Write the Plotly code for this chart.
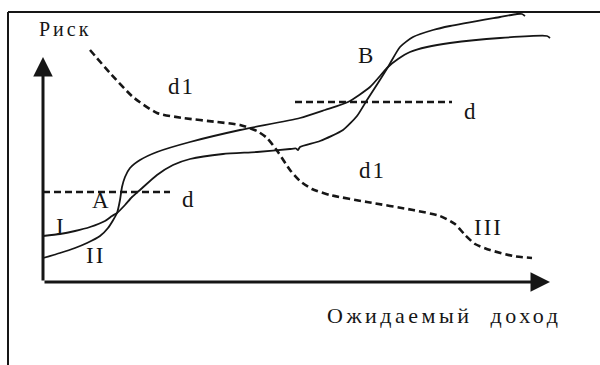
import plotly.graph_objects as go

# curve I (solid, starts higher on the left)
curve1_x = [0, 3.4, 6.4, 9.4, 12.4, 13.8, 14.8, 16.4, 17.8, 19.4, 22.8, 26.0, 29.4, 36.0, 42.8,
            49.4, 50.6, 51.0, 51.4, 55.4, 60.0, 62.8, 64.8, 67.0, 69.0, 71.4, 74.0, 78.0, 81.4,
            91.4, 94.8, 95.8, 96.4]
curve1_y = [18.4, 19.2, 20.4, 22.0, 24.4, 26.4, 27.6, 30.8, 34.0, 36.8, 42.8, 46.8, 49.2, 51.2, 52.0,
            53.2, 53.4, 52.8, 54.0, 56.4, 60.8, 66.4, 72.8, 79.6, 86.0, 94.0, 98.0, 100.8, 102.4,
            106.0, 107.2, 107.2, 106.4]

# curve II (solid, starts lower on the left)
curve2_x = [0, 3.4, 6.4, 8.8, 11.4, 13.0, 14.8, 15.4, 15.8, 16.4, 17.4, 19.4, 22.8, 29.4, 39.4,
            51.4, 56.4, 61.0, 65.4, 69.0, 71.0, 73.4, 76.8, 81.4, 91.4, 100.8, 101.4]
curve2_y = [9.6, 11.6, 13.6, 15.6, 18.4, 21.6, 27.6, 32.8, 38.0, 42.0, 45.6, 48.8, 52.0, 56.0, 60.8,
            65.6, 68.8, 72.0, 78.0, 86.0, 89.2, 92.0, 94.0, 95.6, 97.6, 98.4, 97.6]

# curve III (dashed, falling)
curve3_x = [9.4, 13.4, 18.0, 22.8, 28.0, 34.8, 39.4, 42.8, 44.8, 47.0, 49.4, 51.4, 53.8, 57.4,
            64.8, 74.0, 79.4, 82.4, 84.4, 86.4, 89.4, 94.0, 97.8]
curve3_y = [92.8, 83.6, 74.0, 67.6, 65.6, 64.0, 62.8, 60.4, 57.6, 52.0, 44.8, 40.4, 37.2, 34.8,
            32.0, 28.8, 26.4, 23.2, 18.8, 15.2, 12.8, 10.4, 9.6]

# the two "d" levels
d_low_x = [0, 25.4]
d_low_y = [36.0, 36.0]
d_high_x = [50.4, 81.8]
d_high_y = [72.0, 72.0]

# labels
label_text = ["d1", "B", "d", "d1", "A", "d", "I", "II", "III"]
label_x = [27.6, 64.6, 85.6, 65.8, 11.6, 29.2, 3.6, 10.4, 89.0]
label_y = [78.4, 90.8, 68.4, 44.8, 32.8, 33.2, 22.4, 10.8, 22.0]

x_tip = 101.4
y_tip = 90.0

INK = "#161616"
FONT = "Liberation Serif"

fig = go.Figure()
fig.add_trace(go.Scatter(x=curve1_x, y=curve1_y, mode="lines",
                         line=dict(color=INK, width=1.8, shape="spline", smoothing=0.6)))
fig.add_trace(go.Scatter(x=curve2_x, y=curve2_y, mode="lines",
                         line=dict(color=INK, width=1.8, shape="spline", smoothing=0.6)))
fig.add_trace(go.Scatter(x=curve3_x, y=curve3_y, mode="lines",
                         line=dict(color=INK, width=2.6, dash="7px,4px", shape="spline", smoothing=0.6)))
for xs, ys in ((d_low_x, d_low_y), (d_high_x, d_high_y)):
    fig.add_trace(go.Scatter(x=xs, y=ys, mode="lines", line=dict(color=INK, width=2.4, dash="7px,4px")))

# axes with arrows
for tx, ty in ((x_tip, 0), (0, y_tip)):
    fig.add_annotation(x=tx, y=ty, ax=0, ay=0, xref="x", yref="y", axref="x", ayref="y",
                       text="", showarrow=True, arrowhead=2, arrowsize=1.3, arrowwidth=3,
                       arrowcolor=INK, standoff=0, startstandoff=0)

# frame (left and top edges)
fig.add_shape(type="line", x0=-7, y0=108, x1=-7, y1=-40, line=dict(color=INK, width=2))
fig.add_shape(type="line", x0=-7, y0=108, x1=120, y1=108, line=dict(color=INK, width=2))

for t, x, y in zip(label_text, label_x, label_y):
    fig.add_annotation(x=x, y=y, text=f'<span style="letter-spacing:2px">{t}</span>', showarrow=False,
                       font=dict(family=FONT, size=23, color=INK), xanchor="center", yanchor="middle")

fig.add_annotation(x=-1.2, y=101.2, text='<span style="letter-spacing:3px">Риск</span>', showarrow=False,
                   font=dict(family=FONT, size=20, color=INK), xanchor="left", yanchor="middle")
fig.add_annotation(x=56.4, y=-13.2, text='<span style="letter-spacing:3.5px">Ожидаемый  доход</span>',
                   showarrow=False, font=dict(family=FONT, size=22, color=INK),
                   xanchor="left", yanchor="middle")

fig.update_layout(
    width=600, height=365, margin=dict(l=0, r=0, t=0, b=0),
    paper_bgcolor="white", plot_bgcolor="white", showlegend=False,
    xaxis=dict(range=[-8.6, 111.4], visible=False, fixedrange=True),
    yaxis=dict(range=[-33.2, 112.8], visible=False, fixedrange=True),
)
# drop the browser's default body margin so the figure sits at the page corner
fig.write_html("out.html", config={"displayModeBar": False},
               post_script="document.body.style.margin = '0';")
